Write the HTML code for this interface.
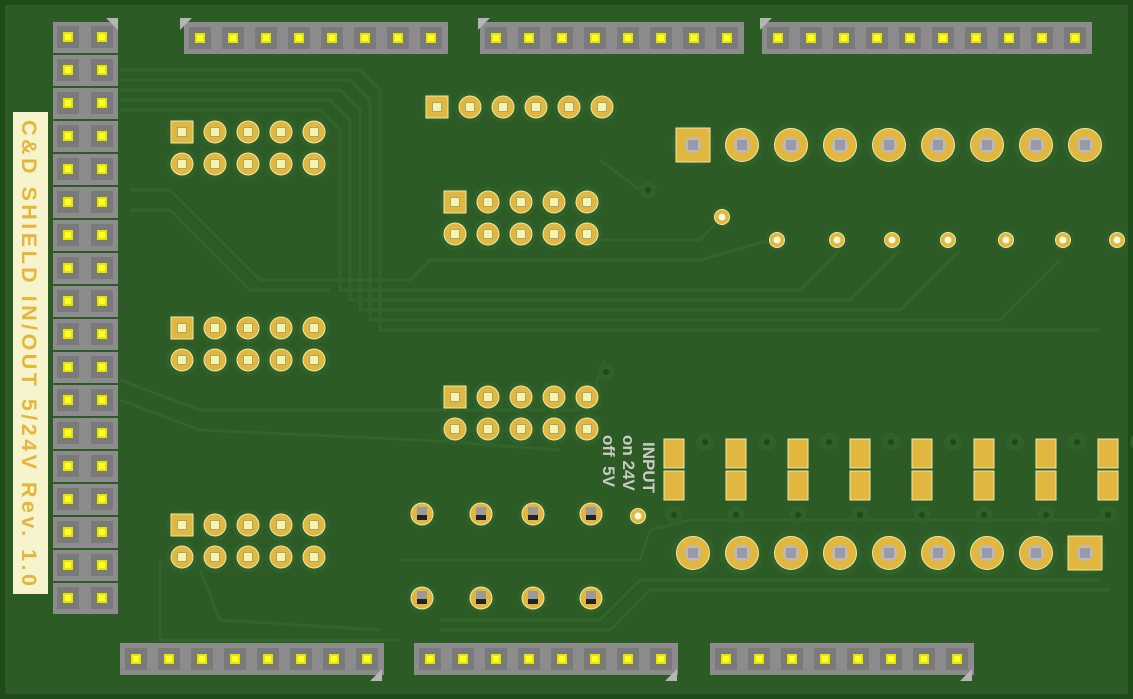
<!DOCTYPE html>
<html><head><meta charset="utf-8"><style>
html,body{margin:0;padding:0;background:#1d4418;}
svg{display:block}
</style></head><body>
<svg id="s" width="1133" height="699" viewBox="0 0 1133 699" xmlns="http://www.w3.org/2000/svg">
<rect x="0" y="0" width="1133" height="699" fill="#1f4a1a"/>
<rect x="5" y="5" width="1123" height="689" fill="#2c5b26"/>
<g id="tr" fill="none" stroke="#31652a" stroke-width="3">
<path d="M120 70 L360 70 L380 90 L380 330 L1100 330"/>
<path d="M120 80 L350 80 L370 100 L370 320 L1000 320 L1060 260"/>
<path d="M120 90 L340 90 L360 110 L360 310 L900 310 L960 250"/>
<path d="M120 100 L330 100 L350 120 L350 300 L850 300 L900 250"/>
<path d="M120 110 L320 110 L340 130 L340 290 L800 290 L840 250"/>
<path d="M130 190 L170 190 L260 280 L410 280 L430 260 L700 260 L770 240"/>
<path d="M130 210 L170 210 L250 290 L330 290"/>
<path d="M120 380 L200 410 L590 410 L600 370 L605 360"/>
<path d="M120 400 L200 430 L420 440 L560 450"/>
<path d="M160 560 L160 640 L400 640"/>
<path d="M200 570 L220 620 L380 630"/>
<path d="M440 620 L600 620 L640 580 L1100 580"/>
<path d="M440 630 L610 630 L650 590 L1110 590"/>
<path d="M400 560 L640 560 L650 530 L690 520 L1110 520"/>
<path d="M600 160 L640 190"/>
<path d="M560 240 L700 240 L722 217"/>
</g>
<g id="g"></g>
<rect x="13" y="112" width="35" height="482" fill="#f6f4cc"/>
<text transform="translate(22 120) rotate(90)" font-family="Liberation Sans, sans-serif" font-size="21.5" font-weight="bold" fill="#e6b53c" textLength="466">C&amp;D SHIELD IN/OUT 5/24V Rev. 1.0</text>
<g font-family="Liberation Sans, sans-serif" font-size="17" fill="#c9cbc4" font-weight="bold">
<text transform="translate(643 442) rotate(90)">INPUT</text>
<text transform="translate(623 435) rotate(90)">on 24V</text>
<text transform="translate(603 435) rotate(90)">off&#160;&#160;5V</text>
</g>
</svg>
<script>
var g=document.getElementById('g'),h='';
function hdr(x,y,w,hh){h+='<rect x="'+x+'" y="'+y+'" width="'+w+'" height="'+hh+'" fill="#8c8c8c"/>';}
function pin(x,y){h+='<rect x="'+(x-11)+'" y="'+(y-11)+'" width="22" height="22" fill="#7a7a7a"/><rect x="'+(x-5)+'" y="'+(y-5)+'" width="10" height="10" fill="#e5e500"/><rect x="'+(x-3)+'" y="'+(y-3)+'" width="6" height="6" fill="#ffff30"/>';}
function tri(x,y,f){h+='<path d="M'+x+' '+y+(f?' l-12 0 l12 12z':' l12 0 l-12 12z')+'" fill="#b5b5b5"/>';}
for(var i=0;i<18;i++){var y=37+i*33;hdr(53,y-15,65,31);pin(68,y);pin(102,y);}
tri(118,18,1);
function row(x0,n,y){hdr(x0-16,y-16,n*33,32);for(var i=0;i<n;i++)pin(x0+i*33,y);}
row(200,8,38);tri(180,18,0);
row(496,8,38);tri(478,18,0);
row(778,10,38);tri(760,18,0);
row(136,8,659);row(430,8,659);row(726,8,659);
h+='<path d="M382 681 l-12 0 l12 -12z M677 681 l-12 0 l12 -12z M972 681 l-12 0 l12 -12z" fill="#b5b5b5"/>';
function pad(x,y,sq,r){r=r||11;h+='<circle cx="'+x+'" cy="'+y+'" r="'+(r+5)+'" fill="#2f6128"/>';
 if(sq)h+='<rect x="'+(x-r)+'" y="'+(y-r)+'" width="'+(2*r)+'" height="'+(2*r)+'" fill="#e2b73f" stroke="#f3e7a8" stroke-width="1"/>';
 else h+='<circle cx="'+x+'" cy="'+y+'" r="'+r+'" fill="#e2b73f" stroke="#f3e7a8" stroke-width="1"/>';
 h+='<rect x="'+(x-5)+'" y="'+(y-5)+'" width="10" height="10" fill="#a8a86a"/><rect x="'+(x-4)+'" y="'+(y-4)+'" width="8" height="8" fill="#f5f3b0"/>';}
function grid(x0,y0,n,rows){for(var r=0;r<rows;r++)for(var i=0;i<n;i++)pad(x0+i*33,y0+r*32,r==0&&i==0);}
grid(182,132,5,2);grid(182,328,5,2);grid(182,525,5,2);
grid(455,202,5,2);grid(455,397,5,2);
for(var i=0;i<6;i++)pad(437+i*33,107,i==0);
function big(x,y,sq){h+='<circle cx="'+x+'" cy="'+y+'" r="22" fill="#2f6128"/>';
 if(sq)h+='<rect x="'+(x-17)+'" y="'+(y-17)+'" width="34" height="34" fill="#e2b73f" stroke="#f3e7a8"/>';
 else h+='<circle cx="'+x+'" cy="'+y+'" r="16.5" fill="#e2b73f" stroke="#f3e7a8"/>';
 h+='<circle cx="'+x+'" cy="'+y+'" r="8" fill="#b9b9c4"/><rect x="'+(x-5)+'" y="'+(y-5)+'" width="10" height="10" fill="#9a9aa6"/>';}
for(var i=0;i<9;i++)big(693+i*49,145,i==0);
for(var i=0;i<9;i++)big(693+i*49,553,i==8);
function via(x,y){h+='<circle cx="'+x+'" cy="'+y+'" r="11" fill="#2f6128"/><circle cx="'+x+'" cy="'+y+'" r="7.5" fill="#e2b73f" stroke="#f3e7a8"/><circle cx="'+x+'" cy="'+y+'" r="3.5" fill="#fafae0"/>';}
via(722,217);[777,837,892,948,1006,1063,1117].forEach(function(x){via(x,240)});via(638,516);
function dv(x,y){h+='<circle cx="'+x+'" cy="'+y+'" r="9" fill="#2f6128"/><circle cx="'+x+'" cy="'+y+'" r="3" fill="#1f4a1a"/>';}
dv(648,190);dv(606,372);
for(var i=0;i<8;i++){var x=674+i*62;h+='<rect x="'+(x-11)+'" y="438" width="22" height="62" fill="#2f6128"/><rect x="'+(x-10)+'" y="439" width="20" height="29" fill="#e2b73f" stroke="#f3e7a8"/><rect x="'+(x-10)+'" y="471" width="20" height="29" fill="#e2b73f" stroke="#f3e7a8"/>';
 dv(x+31,442);dv(x,515);}
function rp(x,y){h+='<circle cx="'+x+'" cy="'+y+'" r="15" fill="#2f6128"/><circle cx="'+x+'" cy="'+y+'" r="11" fill="#e2b73f" stroke="#f3e7a8"/><rect x="'+(x-5)+'" y="'+(y-7)+'" width="10" height="13" fill="#9a9a9a"/><rect x="'+(x-5)+'" y="'+(y+1)+'" width="10" height="5" fill="#222"/>';}
[422,481,533,591].forEach(function(x){rp(x,514);rp(x,598);});
g.innerHTML=h;
</script>
</body></html>
